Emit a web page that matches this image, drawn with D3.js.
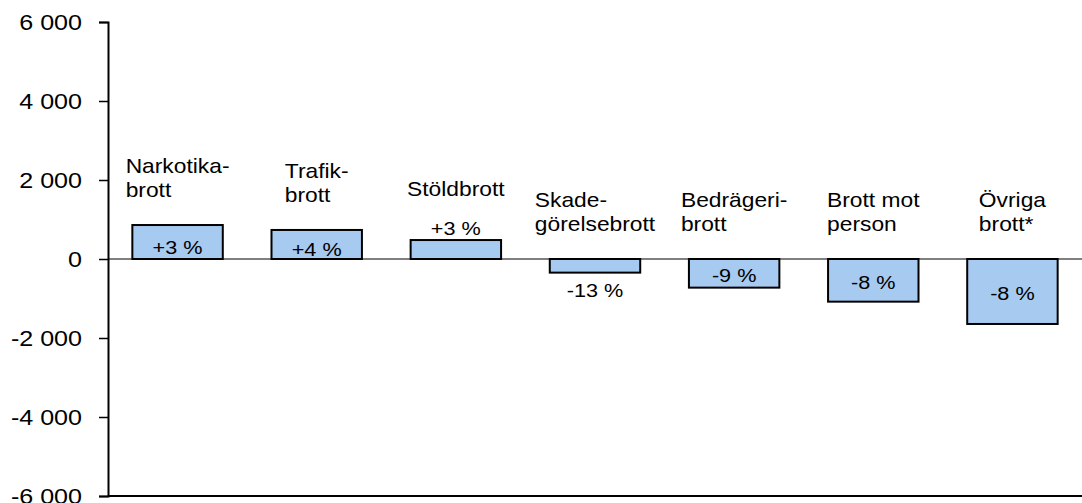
<!DOCTYPE html>
<html>
<head>
<meta charset="utf-8">
<script src="https://cdn.jsdelivr.net/npm/d3@7"></script>
<style>
  body { margin: 0; background: #fff; }
  svg text { font-family: 'Liberation Sans', Arial, sans-serif; fill: #000; }
</style>
</head>
<body>
<svg id="chart" width="1082" height="503"></svg>
<script>
// data
const categories = ['Narkotikabrott', 'Trafikbrott', 'Stöldbrott', 'Skadegörelsebrott', 'Bedrägeribrott', 'Brott mot person', 'Övriga brott*']
const labelLines = [
  ['Narkotika-', 'brott'],
  ['Trafik-', 'brott'],
  ['Stöldbrott'],
  ['Skade-', 'görelsebrott'],
  ['Bedrägeri-', 'brott'],
  ['Brott mot', 'person'],
  ['Övriga', 'brott*']
]
const changes = [860, 735, 480, -345, -725, -1080, -1645]
const percents = [3, 4, 3, -13, -9, -8, -8]
const yTicks = [-6000, -4000, -2000, 0, 2000, 4000, 6000]

const svg = d3.select('svg#chart')
const LEFT = 108
const RIGHT = 1082
const TOP = 22
const BOTTOM = 496
// the original text is a bit wider than the font renders it
const STRETCH = 1.14

const x = d3.scaleBand()
  .domain(categories)
  .range([LEFT, RIGHT])
  .paddingInner(0.35)
  .paddingOuter(0.175)

const y = d3.scaleLinear()
  .domain([-6000, 6000])
  .range([BOTTOM, TOP])

const locale = d3.formatLocale({ decimal: ',', thousands: '\u00a0', grouping: [3], currency: ['', ''], minus: '-' })
const fmt = locale.format(',')

// bottom border line
svg.append('line')
  .attr('x1', LEFT).attr('x2', RIGHT)
  .attr('y1', BOTTOM).attr('y2', BOTTOM)
  .attr('stroke', '#000').attr('stroke-width', 2)

// y axis
const yAxis = svg.append('g')
  .attr('transform', `translate(${LEFT},0)`)
  .call(d3.axisLeft(y).tickValues(yTicks).tickFormat(fmt).tickSize(9).tickPadding(17))
yAxis.select('.domain').attr('stroke', '#000').attr('stroke-width', 2)
yAxis.selectAll('.tick line').attr('stroke', '#000').attr('stroke-width', 1.5)
yAxis.selectAll('.tick text')
  .style('font-family', "'Liberation Sans', Arial, sans-serif")
  .attr('font-size', 22)
  .attr('fill', '#000')
  .attr('x', -26 / STRETCH)
  .attr('transform', `scale(${STRETCH},1)`)

// bars
svg.selectAll('rect.bar')
  .data(changes)
  .join('rect')
  .classed('bar', true)
  .attr('x', (d, i) => x(categories[i]))
  .attr('y', d => y(Math.max(d, 0)))
  .attr('width', x.bandwidth())
  .attr('height', d => Math.abs(y(d) - y(0)))
  .attr('fill', '#a7caf0')
  .attr('stroke', '#000')
  .attr('stroke-width', 2)

// zero line
svg.append('line')
  .attr('x1', LEFT).attr('x2', RIGHT)
  .attr('y1', y(0)).attr('y2', y(0))
  .attr('stroke', '#000').attr('stroke-width', 1)

// percent labels: inside the bar, or outside when the bar is short
const PCT_SIZE = 19
const isOutside = d => Math.abs(y(d) - y(0)) < 28
svg.selectAll('text.pct')
  .data(changes)
  .join('text')
  .classed('pct', true)
  .attr('font-size', PCT_SIZE)
  .attr('text-anchor', 'middle')
  .attr('transform', `scale(${STRETCH},1)`)
  .attr('x', (d, i) => (x(categories[i]) + x.bandwidth() / 2) / STRETCH)
  .attr('y', d => {
    if (isOutside(d)) {
      return d > 0 ? y(d) - 5 : y(d) + 24
    }
    const mid = (y(d) + y(0)) / 2
    return d > 0 ? mid + 12 : mid + 9
  })
  .text((d, i) => `${percents[i] > 0 ? '+' : ''}${percents[i]} %`)

// category labels above the bars
const CAT_SIZE = 20
const LINE_H = 24
const catGroups = svg.selectAll('text.cat')
  .data(changes)
  .join('text')
  .classed('cat', true)
  .attr('font-size', CAT_SIZE)
  .attr('transform', `scale(${STRETCH},1)`)

catGroups.each(function (d, i) {
  const lines = labelLines[i]
  let lastBase = y(Math.max(d, 0)) - 28
  if (d > 0 && isOutside(d)) lastBase -= 16
  const firstBase = lastBase - (lines.length - 1) * LINE_H
  const t = d3.select(this)
  lines.forEach((line, j) => {
    t.append('tspan').attr('y', firstBase + j * LINE_H).text(line)
  })
  let w = 0
  t.selectAll('tspan').each(function () { w = Math.max(w, this.getComputedTextLength()) })
  const left = x(categories[i]) + x.bandwidth() / 2 - w * STRETCH / 2
  t.selectAll('tspan').attr('x', left / STRETCH)
})
</script>
</body>
</html>
